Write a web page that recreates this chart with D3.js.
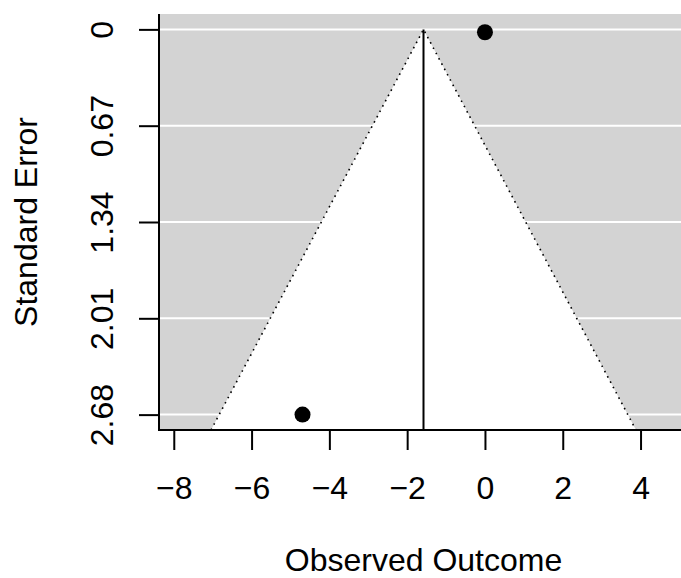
<!DOCTYPE html>
<html>
  <head>
    <meta charset="utf-8">
    <title>Funnel plot</title>
    <script src="https://d3js.org/d3.v7.min.js"></script>
    <style>
      body { margin: 0; background: white; }
      svg { display: block; }
      text { font-family: "Liberation Sans", Arial, sans-serif; fill: black; }
    </style>
  </head>
  <body>
    <svg id="chart" width="681" height="578"></svg>
    <script>
      // data
      const studyYi = [0.0, -4.69];
      const studySei = [0.02, 2.68];
      const estimate = -1.58;
      const xTicks = [-8, -6, -4, -2, 0, 2, 4];
      const yTicks = [0, 0.67, 1.34, 2.01, 2.68];
      const yTickLabels = ["0", "0.67", "1.34", "2.01", "2.68"];

      // layout
      const plotLeft = 159, plotRight = 688, plotTop = 14, plotBottom = 430;
      const fontSize = 32;

      const svg = d3.select("#chart");

      const x = d3.scaleLinear().domain([-8.38, 5.22]).range([plotLeft, plotRight]);
      const yMax = 2.787;
      const y = d3.scaleLinear().domain([-0.107, yMax]).range([plotTop, plotBottom]);

      // plot region background
      svg.append("rect")
        .attr("x", plotLeft).attr("y", plotTop)
        .attr("width", plotRight - plotLeft).attr("height", plotBottom - plotTop)
        .attr("fill", "#d3d3d3");

      // horizontal reference lines
      svg.selectAll(".grid")
          .data(yTicks)
        .enter().append("line")
          .attr("class", "grid")
          .attr("x1", plotLeft).attr("x2", plotRight)
          .attr("y1", d => y(d)).attr("y2", d => y(d))
          .attr("stroke", "white")
          .attr("stroke-width", 2);

      // pseudo confidence region
      const funnel = [
        [estimate - 1.96 * yMax, yMax],
        [estimate, 0],
        [estimate + 1.96 * yMax, yMax]
      ];
      const line = d3.line().x(d => x(d[0])).y(d => y(d[1]));
      svg.append("path")
        .attr("d", line(funnel) + "Z")
        .attr("fill", "white");
      svg.append("path")
        .attr("d", line(funnel))
        .attr("fill", "none")
        .attr("stroke", "black")
        .attr("stroke-width", 1.6)
        .attr("stroke-dasharray", "1.6 4.4");

      // estimate line
      svg.append("line")
        .attr("x1", x(estimate)).attr("x2", x(estimate))
        .attr("y1", y(0)).attr("y2", y(yMax))
        .attr("stroke", "black")
        .attr("stroke-width", 2);

      // studies
      svg.selectAll(".study")
          .data(d3.zip(studyYi, studySei))
        .enter().append("circle")
          .attr("class", "study")
          .attr("cx", d => x(d[0]))
          .attr("cy", d => y(d[1]))
          .attr("r", 8)
          .attr("fill", "black");

      // axes
      const xAxis = d3.axisBottom(x)
        .tickValues(xTicks)
        .tickFormat(d3.format("d"))
        .tickSize(20);
      const gx = svg.append("g")
        .attr("transform", "translate(0," + plotBottom + ")")
        .call(xAxis);
      gx.select(".domain").remove();
      gx.selectAll(".tick line").attr("stroke-width", 2);
      gx.selectAll(".tick text")
        .attr("font-size", fontSize)
        .style("font-family", "Liberation Sans, Arial, sans-serif")
        .attr("dy", null)
        .attr("y", 69);

      const yAxis = d3.axisLeft(y)
        .tickValues(yTicks)
        .tickFormat((d, i) => yTickLabels[i])
        .tickSize(20);
      const gy = svg.append("g")
        .attr("transform", "translate(" + plotLeft + ",0)")
        .call(yAxis);
      gy.select(".domain").remove();
      gy.selectAll(".tick line").attr("stroke-width", 2);
      gy.selectAll(".tick text")
        .attr("font-size", fontSize)
        .style("font-family", "Liberation Sans, Arial, sans-serif")
        .attr("text-anchor", "middle")
        .attr("dy", null)
        .attr("x", null)
        .attr("transform", "translate(-46,0) rotate(-90)");

      // box, bty = "l"
      svg.append("path")
        .attr("d", "M" + plotLeft + "," + plotTop + "V" + plotBottom + "H" + plotRight)
        .attr("fill", "none")
        .attr("stroke", "black")
        .attr("stroke-width", 2);

      // axis titles
      svg.append("text")
        .attr("x", (plotLeft + plotRight) / 2)
        .attr("y", 571)
        .attr("text-anchor", "middle")
        .attr("font-size", fontSize)
        .text("Observed Outcome");
      svg.append("text")
        .attr("transform", "translate(37," + (plotTop + plotBottom) / 2 + ") rotate(-90)")
        .attr("text-anchor", "middle")
        .attr("font-size", fontSize)
        .text("Standard Error");
    </script>
  </body>
</html>
